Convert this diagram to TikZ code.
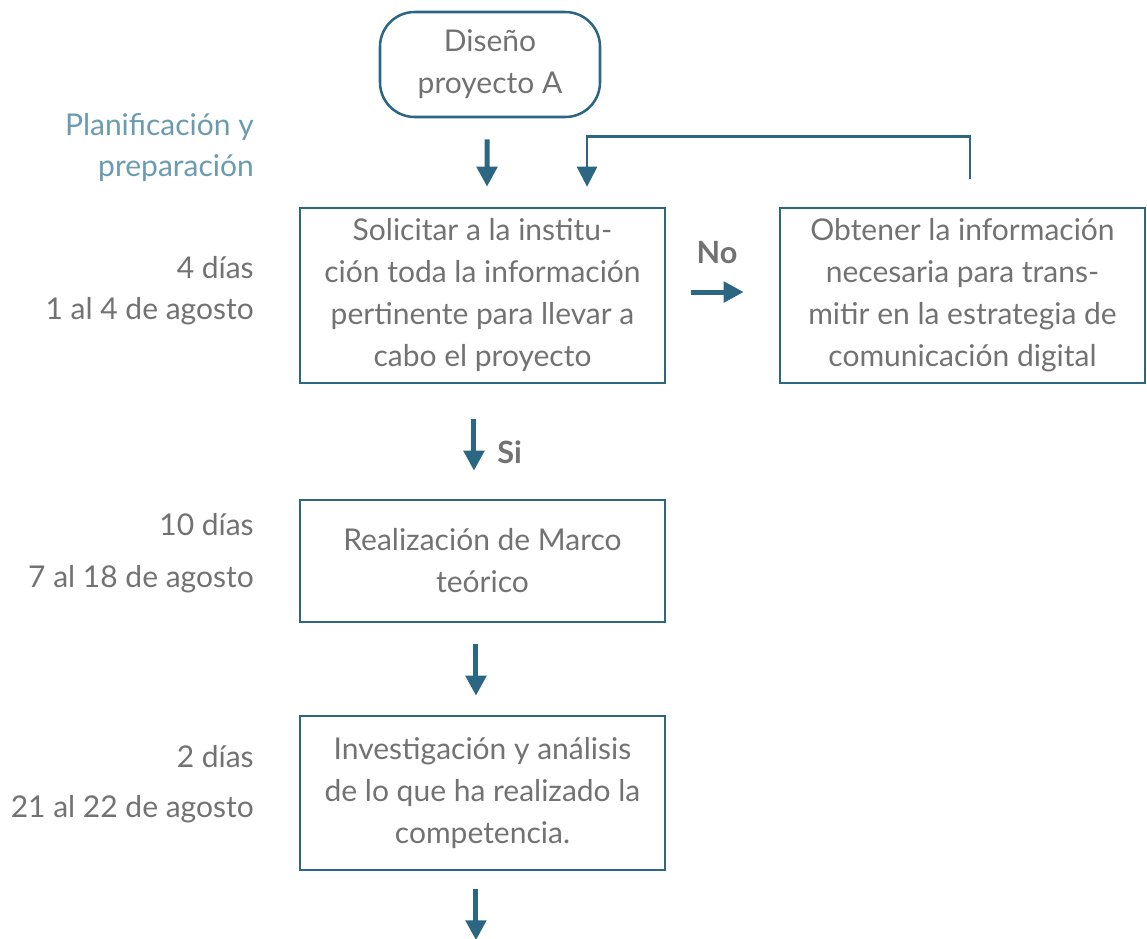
\documentclass[tikz,border=0pt]{standalone}
\usepackage{fontspec}
\setmainfont{Lato}
\usetikzlibrary{arrows.meta,positioning}
\definecolor{boxblue}{HTML}{2B6682}
\definecolor{txtgray}{HTML}{727272}
\definecolor{phaseblue}{HTML}{6A9BB0}
\tikzset{
  stepbox/.style={draw=boxblue, line width=1.9pt, minimum width=273.75pt,
    align=center, text=txtgray, inner sep=0pt,
    font=\fontsize{22.5}{31.5}\selectfont},
  startbox/.style={stepbox, rounded corners=26pt, minimum width=165pt,
    minimum height=78.75pt},
  flow/.style={boxblue, line width=3.75pt, -{Triangle[length=15pt,width=15pt]}},
  back/.style={boxblue, line width=1.9pt, -{Triangle[length=15pt,width=15pt]}},
  timing/.style={anchor=base east, text=txtgray, inner sep=0pt,
    font=\fontsize{22.5}{31.5}\selectfont},
  answer/.style={text=txtgray, inner sep=0pt,
    font=\fontsize{23}{28}\selectfont\bfseries}
}
\begin{document}
\begin{tikzpicture}[x=0.75pt,y=-0.75pt]
  \useasboundingbox (0,0) rectangle (1147,939);

  % boxes
  \node[startbox] (diseno) at (490,64.5) {Diseño\\proyecto A};
  \node[stepbox, minimum height=131.25pt] (solicitar) at (482.5,295.5)
    {Solicitar a la institu-\\ción toda la información\\pertinente para llevar a\\cabo el proyecto};
  \node[stepbox, minimum height=131.25pt] (obtener) at (962.5,295.5)
    {Obtener la información\\necesaria para trans-\\mitir en la estrategia de\\comunicación digital};
  \node[stepbox, minimum height=91.5pt] (realizacion) at (482.5,561)
    {Realización de Marco\\teórico};
  \node[stepbox, minimum height=115.5pt] (investigacion) at (482.5,793)
    {Investigación y análisis\\de lo que ha realizado la\\competencia.};

  % left column
  \node[timing, text=phaseblue] (fase1) at (254,135) {Planificación y};
  \node[timing, text=phaseblue] (fase2) at (254,176) {preparación};
  \node[timing] (dias1) at (254,278) {4 días};
  \node[timing] (fecha1) at (254,319) {1 al 4 de agosto};
  \node[timing] (dias2) at (254,535) {10 días};
  \node[timing] (fecha2) at (254,587) {7 al 18 de agosto};
  \node[timing] (dias3) at (254,767) {2 días};
  \node[timing] (fecha3) at (254,817) {21 al 22 de agosto};

  % answers
  \node[answer] (no) at (717,253) {No};
  \node[answer, anchor=west] (si) at (497,452) {Si};

  % arrows
  \draw[flow] ([xshift=-2.25pt,yshift=-15.75pt]diseno.south)
    -- ([xshift=3.4pt,yshift=15pt]solicitar.north);
  \draw[back] ([xshift=5.6pt,yshift=21pt]obtener.north) -- ++(0,-42)
    -| ([xshift=78.4pt,yshift=15pt]solicitar.north);
  \draw[flow] ([xshift=18.75pt,yshift=2.6pt]solicitar.east)
    -- ([xshift=-26.25pt,yshift=2.6pt]obtener.west);
  \draw[flow] ([xshift=-6.4pt,yshift=-26.25pt]solicitar.south)
    -- ([xshift=-6.4pt,yshift=21pt]realizacion.north);
  \draw[flow] ([xshift=-4.9pt,yshift=-15.75pt]realizacion.south)
    -- ([xshift=-4.9pt,yshift=14.25pt]investigacion.north);
  \draw[flow] ([xshift=-4.9pt,yshift=-13.5pt]investigacion.south) -- ++(0,51);
\end{tikzpicture}
\end{document}
